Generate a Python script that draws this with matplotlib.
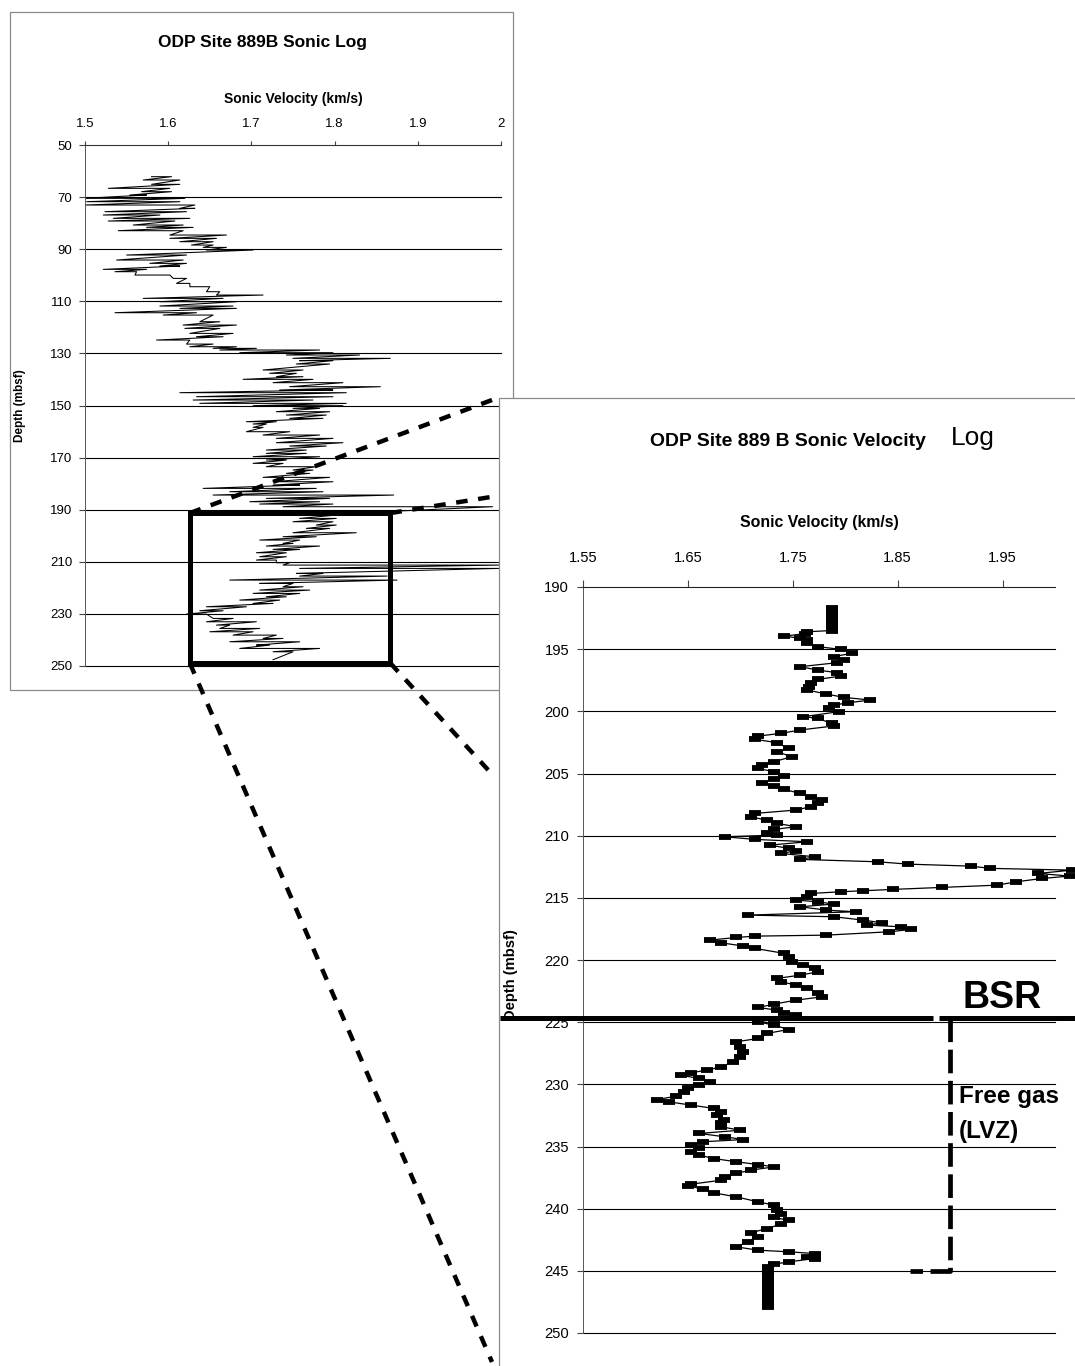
"""ODP Site 889B sonic log: full interval plus zoom on the BSR / free gas zone."""
import matplotlib

matplotlib.use("Agg")
import matplotlib.pyplot as plt
import numpy as np
from matplotlib import font_manager
from matplotlib.patches import ConnectionPatch, Rectangle

# --- full log (small panel): depth, min and max of the sonic trace at each step
top_depth = [62.16, 63.44, 65.1, 66.64, 67.92, 69.2, 70.48, 71.76, 73.04, 74.32,
             75.6, 76.88, 78.16, 79.18, 80.72, 81.62, 82.9, 84.56, 85.84, 87.12,
             88.4, 89.3, 90.32, 92.24, 94.16, 95.44, 96.46, 97.74, 98.64, 99.92,
             101.2, 103.12, 104.4, 106.32, 107.6, 108.88, 110.16, 111.82, 112.72, 114.38,
             115.28, 117.84, 119.12, 120.4, 122.32, 123.6, 124.88, 126.42, 127.44, 128.06,
             128.7, 129.72, 130.62, 131.9, 132.79, 134.07, 136.38, 137.66, 138.94, 139.96,
             141.24, 142.78, 144.06, 145.08, 146.62, 147.9, 149.18, 150.07, 151.1, 152.38,
             153.66, 154.94, 156.22, 157.11, 158.39, 160.06, 161.34, 162.62, 164.28, 165.56,
             167.1, 168.38, 169.66, 170.94, 172.22, 173.5, 174.78, 176.06, 177.59, 179.26,
             180.54, 181.82, 183.1, 184.38, 185.66, 186.94, 187.83, 188.86, 192.06, 193.34,
             194.62, 195.9, 197.18, 198.84, 200.38, 201.66, 202.94, 203.96, 205.24, 206.52,
             208.06, 209.34, 210.36, 211.26, 212.54, 214.46, 215.48, 217.02, 218.3, 219.58,
             220.86, 222.14, 223.42, 224.7, 225.98, 227.26, 228.79, 230.07, 231.74, 233.02,
             234.3, 235.58, 236.86, 238.14, 239.42, 240.7, 241.98, 243.26, 244.54, 247.6]
top_vlow = [1.580, 1.570, 1.580, 1.528, 1.568, 1.554, 1.498, 1.502, 1.500, 1.614,
            1.524, 1.522, 1.534, 1.528, 1.558, 1.574, 1.540, 1.602, 1.602, 1.614,
            1.628, 1.642, 1.646, 1.550, 1.538, 1.578, 1.590, 1.522, 1.536, 1.560,
            1.606, 1.610, 1.626, 1.646, 1.658, 1.570, 1.590, 1.590, 1.614, 1.536,
            1.594, 1.638, 1.618, 1.620, 1.626, 1.634, 1.586, 1.622, 1.626, 1.654,
            1.662, 1.686, 1.742, 1.750, 1.758, 1.754, 1.714, 1.722, 1.730, 1.690,
            1.726, 1.746, 1.734, 1.614, 1.634, 1.630, 1.638, 1.702, 1.750, 1.730,
            1.742, 1.746, 1.694, 1.702, 1.702, 1.694, 1.714, 1.730, 1.730, 1.746,
            1.718, 1.718, 1.702, 1.718, 1.702, 1.718, 1.750, 1.742, 1.714, 1.726,
            1.726, 1.642, 1.674, 1.654, 1.718, 1.698, 1.710, 1.738, 1.770, 1.758,
            1.750, 1.778, 1.766, 1.750, 1.738, 1.710, 1.738, 1.718, 1.726, 1.706,
            1.710, 1.706, 1.730, 1.738, 1.758, 1.754, 1.758, 1.674, 1.710, 1.738,
            1.710, 1.702, 1.718, 1.686, 1.702, 1.646, 1.638, 1.622, 1.654, 1.646,
            1.658, 1.662, 1.650, 1.678, 1.714, 1.674, 1.706, 1.686, 1.726, 1.726]
top_vhigh = [1.604, 1.614, 1.614, 1.602, 1.604, 1.574, 1.620, 1.614, 1.632, 1.632,
             1.622, 1.590, 1.626, 1.608, 1.618, 1.630, 1.618, 1.670, 1.658, 1.654,
             1.654, 1.670, 1.702, 1.622, 1.618, 1.622, 1.614, 1.574, 1.562, 1.602,
             1.622, 1.626, 1.650, 1.662, 1.714, 1.666, 1.682, 1.678, 1.682, 1.634,
             1.654, 1.662, 1.682, 1.662, 1.678, 1.666, 1.626, 1.654, 1.682, 1.706,
             1.782, 1.798, 1.830, 1.867, 1.798, 1.794, 1.762, 1.754, 1.762, 1.774,
             1.810, 1.855, 1.798, 1.814, 1.798, 1.774, 1.814, 1.810, 1.782, 1.794,
             1.790, 1.786, 1.730, 1.718, 1.714, 1.746, 1.782, 1.798, 1.810, 1.790,
             1.766, 1.766, 1.782, 1.742, 1.738, 1.778, 1.774, 1.770, 1.794, 1.798,
             1.758, 1.778, 1.786, 1.871, 1.794, 1.782, 1.798, 1.990, 1.802, 1.802,
             1.798, 1.802, 1.794, 1.826, 1.778, 1.758, 1.750, 1.782, 1.758, 1.742,
             1.742, 1.730, 1.746, 1.998, 1.998, 1.786, 1.863, 1.875, 1.750, 1.762,
             1.770, 1.758, 1.742, 1.734, 1.726, 1.694, 1.666, 1.646, 1.678, 1.706,
             1.674, 1.710, 1.702, 1.730, 1.738, 1.758, 1.722, 1.782, 1.750, 1.726]

# --- zoomed interval (large panel)
zoom_depth = [191.7, 192.0, 192.3, 192.6, 192.9, 193.2, 193.5, 193.6, 193.75, 193.95,
              194.13, 194.27, 194.53, 194.8, 195.02, 195.34, 195.6, 195.87, 196.09, 196.41,
              196.68, 196.89, 197.16, 197.43, 197.7, 198.02, 198.29, 198.61, 198.88, 199.09,
              199.31, 199.5, 199.76, 200.03, 200.43, 200.57, 200.97, 201.18, 201.5, 201.77,
              201.99, 202.25, 202.52, 202.98, 203.25, 203.65, 204.05, 204.32, 204.59, 204.86,
              205.2, 205.47, 205.74, 206.01, 206.28, 206.6, 206.87, 207.14, 207.4, 207.67,
              207.94, 208.21, 208.48, 208.75, 209.01, 209.28, 209.5, 209.76, 209.95, 210.09,
              210.3, 210.49, 210.76, 211.02, 211.21, 211.43, 211.7, 211.91, 212.1, 212.29,
              212.45, 212.63, 212.77, 213.04, 213.25, 213.44, 213.71, 213.98, 214.16, 214.32,
              214.43, 214.51, 214.65, 214.91, 215.18, 215.32, 215.5, 215.72, 215.99, 216.12,
              216.39, 216.52, 216.79, 217.01, 217.19, 217.33, 217.54, 217.73, 218.0, 218.08,
              218.19, 218.4, 218.62, 218.88, 219.07, 219.47, 219.74, 220.14, 220.41, 220.68,
              220.95, 221.22, 221.48, 221.75, 222.02, 222.29, 222.64, 222.96, 223.23, 223.55,
              223.82, 224.03, 224.25, 224.43, 224.78, 224.97, 225.24, 225.59, 225.91, 226.31,
              226.58, 226.98, 227.38, 227.79, 228.19, 228.59, 228.86, 229.07, 229.26, 229.53,
              229.8, 230.07, 230.33, 230.6, 230.95, 231.22, 231.41, 231.67, 231.94, 232.21,
              232.48, 232.83, 233.15, 233.42, 233.69, 233.95, 234.22, 234.44, 234.62, 234.89,
              235.16, 235.43, 235.7, 235.97, 236.23, 236.45, 236.64, 236.9, 237.17, 237.44,
              237.71, 238.03, 238.16, 238.43, 238.73, 239.05, 239.45, 239.72, 240.12, 240.39,
              240.71, 240.93, 241.25, 241.6, 241.95, 242.27, 242.67, 243.07, 243.34, 243.47,
              243.61, 243.88, 244.01, 244.28, 244.47, 244.68, 245.0, 245.3, 245.6, 245.9,
              246.2, 246.5, 246.8, 247.1, 247.4, 247.7, 247.9]
zoom_vel = [1.787, 1.787, 1.787, 1.787, 1.787, 1.787, 1.787, 1.764, 1.762, 1.742,
            1.757, 1.764, 1.764, 1.774, 1.796, 1.806, 1.789, 1.799, 1.792, 1.757,
            1.774, 1.792, 1.796, 1.774, 1.767, 1.765, 1.764, 1.782, 1.799, 1.824,
            1.803, 1.789, 1.785, 1.794, 1.760, 1.774, 1.787, 1.789, 1.757, 1.739,
            1.717, 1.714, 1.735, 1.746, 1.735, 1.749, 1.732, 1.721, 1.717, 1.732,
            1.742, 1.732, 1.721, 1.732, 1.742, 1.757, 1.767, 1.778, 1.774, 1.767,
            1.753, 1.714, 1.710, 1.725, 1.735, 1.753, 1.732, 1.725, 1.735, 1.685,
            1.714, 1.764, 1.728, 1.746, 1.753, 1.739, 1.771, 1.757, 1.831, 1.860,
            1.920, 1.938, 2.016, 1.984, 2.014, 1.988, 1.963, 1.945, 1.892, 1.846,
            1.817, 1.796, 1.767, 1.764, 1.753, 1.774, 1.789, 1.757, 1.782, 1.810,
            1.707, 1.789, 1.817, 1.835, 1.821, 1.853, 1.863, 1.842, 1.782, 1.714,
            1.696, 1.671, 1.682, 1.703, 1.714, 1.742, 1.746, 1.749, 1.760, 1.771,
            1.774, 1.757, 1.735, 1.739, 1.753, 1.764, 1.774, 1.778, 1.753, 1.732,
            1.717, 1.735, 1.742, 1.753, 1.732, 1.717, 1.732, 1.746, 1.725, 1.717,
            1.696, 1.700, 1.703, 1.700, 1.693, 1.682, 1.668, 1.653, 1.643, 1.661,
            1.671, 1.661, 1.650, 1.646, 1.639, 1.621, 1.632, 1.653, 1.675, 1.682,
            1.678, 1.684, 1.682, 1.682, 1.700, 1.661, 1.685, 1.703, 1.664, 1.653,
            1.661, 1.653, 1.661, 1.675, 1.696, 1.717, 1.732, 1.710, 1.696, 1.685,
            1.682, 1.653, 1.650, 1.664, 1.675, 1.696, 1.717, 1.732, 1.735, 1.739,
            1.732, 1.746, 1.739, 1.725, 1.710, 1.717, 1.707, 1.696, 1.717, 1.746,
            1.771, 1.764, 1.771, 1.746, 1.732, 1.726, 1.726, 1.726, 1.726, 1.726,
            1.726, 1.726, 1.726, 1.726, 1.726, 1.726, 1.726]

# zoom box drawn on the small panel (velocity range, depth range)
zoom_box_v = (1.626, 1.867)
zoom_box_d = (191.3, 248.9)

# annotations on the zoomed panel
bsr_depth = 224.65
bsr_spans = [(1.471, 1.884), (1.889, 2.02)]
lvz_path_v = [1.90, 1.90, 1.862]
lvz_path_d = [bsr_depth, 245.0, 245.0]

W, H = 1075, 1366


def fx(px):
    return px / W


def fy(py):
    return 1 - py / H


names = {f.name for f in font_manager.fontManager.ttflist}
if "Liberation Sans Narrow" in names:
    NARROW, nscale = "Liberation Sans Narrow", 1.0
else:
    NARROW, nscale = "Liberation Sans", 0.82
plt.rcParams["font.family"] = ["Liberation Sans", "DejaVu Sans"]

fig = plt.figure(figsize=(W / 100, H / 100), dpi=100)
fig.patch.set_facecolor("white")

# chart-area frames (Excel style)
fig.add_artist(Rectangle((fx(10), fy(690)), fx(513) - fx(10), fy(12) - fy(690),
                         transform=fig.transFigure, fc="white", ec="#8a8a8a", lw=0.9, zorder=0))
fig.add_artist(Rectangle((fx(499), fy(1372)), fx(1080) - fx(499), fy(398) - fy(1372),
                         transform=fig.transFigure, fc="white", ec="#8a8a8a", lw=0.9, zorder=3))

# ---------------- small panel ----------------
ax1 = fig.add_axes([fx(85), fy(666), fx(501) - fx(85), fy(145) - fy(666)])
ax1.set_zorder(1)
ax1.patch.set_alpha(0)
top_d = np.repeat(top_depth, 2)
top_v = np.column_stack([top_vlow, top_vhigh]).ravel()
ax1.plot(top_v, top_d, color="black", lw=0.75)
ax1.set_xlim(1.5, 2.0)
ax1.set_ylim(250, 50)
ax1.xaxis.tick_top()
ax1.xaxis.set_label_position("top")
ax1.set_xticks([1.5, 1.6, 1.7, 1.8, 1.9, 2.0])
ax1.set_xticklabels(["1.5", "1.6", "1.7", "1.8", "1.9", "2"])
ax1.set_yticks(np.arange(50, 251, 20))
for d in np.arange(70, 251, 20):
    ax1.axhline(d, color="black", lw=0.8, clip_on=False, zorder=1)
ax1.tick_params(axis="x", direction="out", length=3, pad=8, labelsize=9.5, color="#444")
ax1.tick_params(axis="y", direction="out", length=4, pad=5, labelsize=9.5, color="#444")
for s in ("right", "bottom"):
    ax1.spines[s].set_visible(False)
ax1.spines["top"].set_color("#333")
ax1.spines["left"].set_color("#555")
ax1.spines["left"].set_linewidth(0.7)
ax1.set_xlabel("Sonic Velocity (km/s)", fontsize=10, fontweight="bold")
ax1.xaxis.set_label_coords(0.5, (666 - 103) / 521)
ax1.set_ylabel("Depth (mbsf)", fontsize=8.5, fontweight="bold")
ax1.yaxis.set_label_coords((26 - 85) / 416, 0.5)
ax1.add_patch(Rectangle((zoom_box_v[0], zoom_box_d[0]), zoom_box_v[1] - zoom_box_v[0],
                        zoom_box_d[1] - zoom_box_d[0], fill=False, ec="black", lw=3.6,
                        clip_on=False, zorder=3))
fig.text(fx(262), fy(42), "ODP Site 889B Sonic Log", ha="center", va="center",
         fontsize=12.5, fontweight="bold")

# ---------------- zoomed panel ----------------
ax2 = fig.add_axes([fx(583), fy(1333), fx(1055) - fx(583), fy(587) - fy(1333)])
ax2.set_zorder(4)
ax2.patch.set_alpha(0)
ax2.plot(zoom_vel, zoom_depth, color="black", lw=0.9, marker="_", ms=8, mew=4.2,
         clip_on=False, zorder=3)
ax2.set_xlim(1.55, 2.0)
ax2.set_ylim(250, 190)
ax2.xaxis.tick_top()
ax2.xaxis.set_label_position("top")
ax2.set_xticks([1.55, 1.65, 1.75, 1.85, 1.95])
ax2.set_xticklabels(["1.55", "1.65", "1.75", "1.85", "1.95"])
ax2.set_yticks(np.arange(190, 251, 5))
for d in np.arange(195, 251, 5):
    ax2.axhline(d, color="black", lw=0.8, clip_on=False, zorder=1)
for lab in ax2.get_xticklabels() + ax2.get_yticklabels():
    lab.set_fontfamily(NARROW)
    lab.set_fontsize(13 * nscale)
ax2.tick_params(axis="x", direction="out", length=5, pad=11, color="#444")
ax2.tick_params(axis="y", direction="out", length=4, pad=6, color="#444")
for s in ("right", "bottom"):
    ax2.spines[s].set_visible(False)
ax2.spines["top"].set_color("#222")
ax2.spines["left"].set_color("#555")
ax2.spines["left"].set_linewidth(0.7)
ax2.set_xlabel("Sonic Velocity (km/s)", family=NARROW, fontsize=14 * nscale, fontweight="bold")
ax2.xaxis.set_label_coords(0.5, (1333 - 527) / 746)
ax2.set_ylabel("Depth (mbsf)", family=NARROW, fontsize=13 * nscale, fontweight="bold")
ax2.yaxis.set_label_coords((518 - 583) / 472, 0.48)

# BSR line, free gas zone
for x0, x1 in bsr_spans:
    ax2.plot([x0, x1], [bsr_depth, bsr_depth], color="black", lw=3.6,
             solid_capstyle="butt", clip_on=False, zorder=4)
ax2.plot(lvz_path_v, lvz_path_d, color="black", lw=3.4, dashes=(5, 1.6),
         clip_on=False, zorder=4)
ax2.text(1.912, 223.9, "BSR", fontsize=27, fontweight="bold", va="baseline", ha="left")
ax2.text(1.908, 231.5, "Free gas", fontsize=17.5, fontweight="bold", va="baseline", ha="left")
ax2.text(1.908, 234.3, "(LVZ)", fontsize=17.5, fontweight="bold", va="baseline", ha="left")

fig.text(fx(650), fy(441), "ODP Site 889 B Sonic Velocity", ha="left", va="center",
         family=NARROW, fontsize=17 * nscale, fontweight="bold")
fig.text(fx(951), fy(438), "Log", ha="left", va="center", fontsize=19)

# dashed connectors from the zoom box to the zoomed panel
v0, v1 = zoom_box_v
d0, d1 = zoom_box_d
connectors = [((v0, d0), (500, 397), 2), ((v1, d0), (497, 496), 2),
              ((v0, d1), (492, 1362), 5), ((v1, d1), (490, 772), 5)]
for xy_a, (px, py), z in connectors:
    con = ConnectionPatch(xyA=xy_a, coordsA=ax1.transData,
                          xyB=(fx(px), fy(py)), coordsB=fig.transFigure,
                          color="black", lw=3.2, linestyle=(0, (2.6, 2.4)),
                          capstyle="butt", zorder=z)
    fig.add_artist(con)

fig.savefig("out.png", dpi=100)
plt.close(fig)
